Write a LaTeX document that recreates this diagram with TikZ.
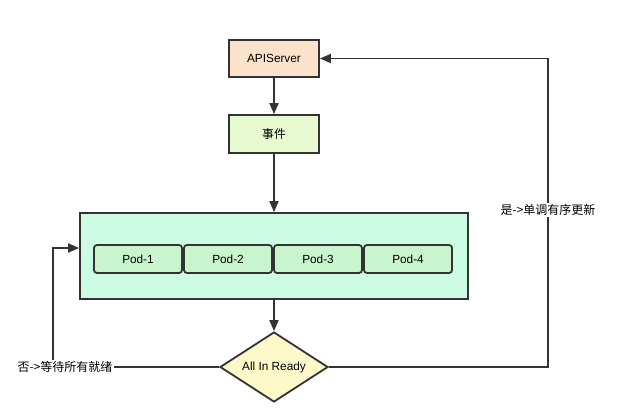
\documentclass[tikz,border=0pt]{standalone}
\usepackage{fontspec}
\setmainfont{Liberation Sans}
\newfontfamily\cjk{Noto Sans CJK SC}
\usetikzlibrary{arrows.meta,shapes.geometric}
\definecolor{lnc}{HTML}{333333}
\definecolor{apifill}{HTML}{FCE2CA}
\definecolor{evfill}{HTML}{E7F9D0}
\definecolor{bigfill}{HTML}{CCFCE4}
\definecolor{podfill}{HTML}{C8F5CE}
\definecolor{dfill}{HTML}{FEF9C8}
\begin{document}
\begin{tikzpicture}[x=1pt,y=-1pt,
  line/.style={draw=lnc,line width=1.8pt},
  arr/.style={line,-{Triangle[length=11pt,width=9pt]}},
  box/.style={draw=lnc,line width=1.8pt,minimum width=90pt,minimum height=37pt,inner sep=0pt,font=\fontsize{11.8}{13}\selectfont},
  podbox/.style={draw=lnc,line width=1.8pt,fill=podfill,rounded corners=3pt,minimum width=88pt,minimum height=28pt,inner sep=0pt,font=\fontsize{11.8}{13}\selectfont},
  lbl/.style={fill=white,inner sep=1pt,font=\cjk\fontsize{12}{13}\selectfont}]
\useasboundingbox (0,0) rectangle (640,413);
\node[box,fill=apifill] (api) at (274,58.5) {APIServer};
\node[box,fill=evfill,minimum height=38pt] (ev) at (274,134) {\cjk 事件};
\node[draw=lnc,line width=1.8pt,fill=bigfill,minimum width=388pt,minimum height=86pt,inner sep=0pt] (big) at (274,256) {};
\node[podbox] (p1) at (138,259) {Pod-1};
\node[podbox] (p2) at (228,259) {Pod-2};
\node[podbox] (p3) at (318,259) {Pod-3};
\node[podbox] (p4) at (408,259) {Pod-4};
\node[diamond,draw=lnc,line width=1.8pt,fill=dfill,minimum width=108pt,minimum height=70pt,inner sep=0pt,aspect=1.55,font=\fontsize{11.8}{13}\selectfont] (d) at (274,367) {All In Ready};
\node[lbl] (yes) at (548,210) {是->单调有序更新};
\node[lbl] (no) at (65,367) {否->等待所有就绪};
\coordinate (nl) at (53,248);
\draw[arr] (api) -- (ev);
\draw[arr] (ev) -- (big);
\draw[arr] (big) -- (d);
\draw[line] (d.east) -| (yes.south);
\draw[arr] (yes.north) |- (api.east);
\draw[line] (d.west) -- (no.east);
\draw[arr] (no.north -| nl) -- (nl) -- (big.west |- nl);
\end{tikzpicture}
\end{document}
